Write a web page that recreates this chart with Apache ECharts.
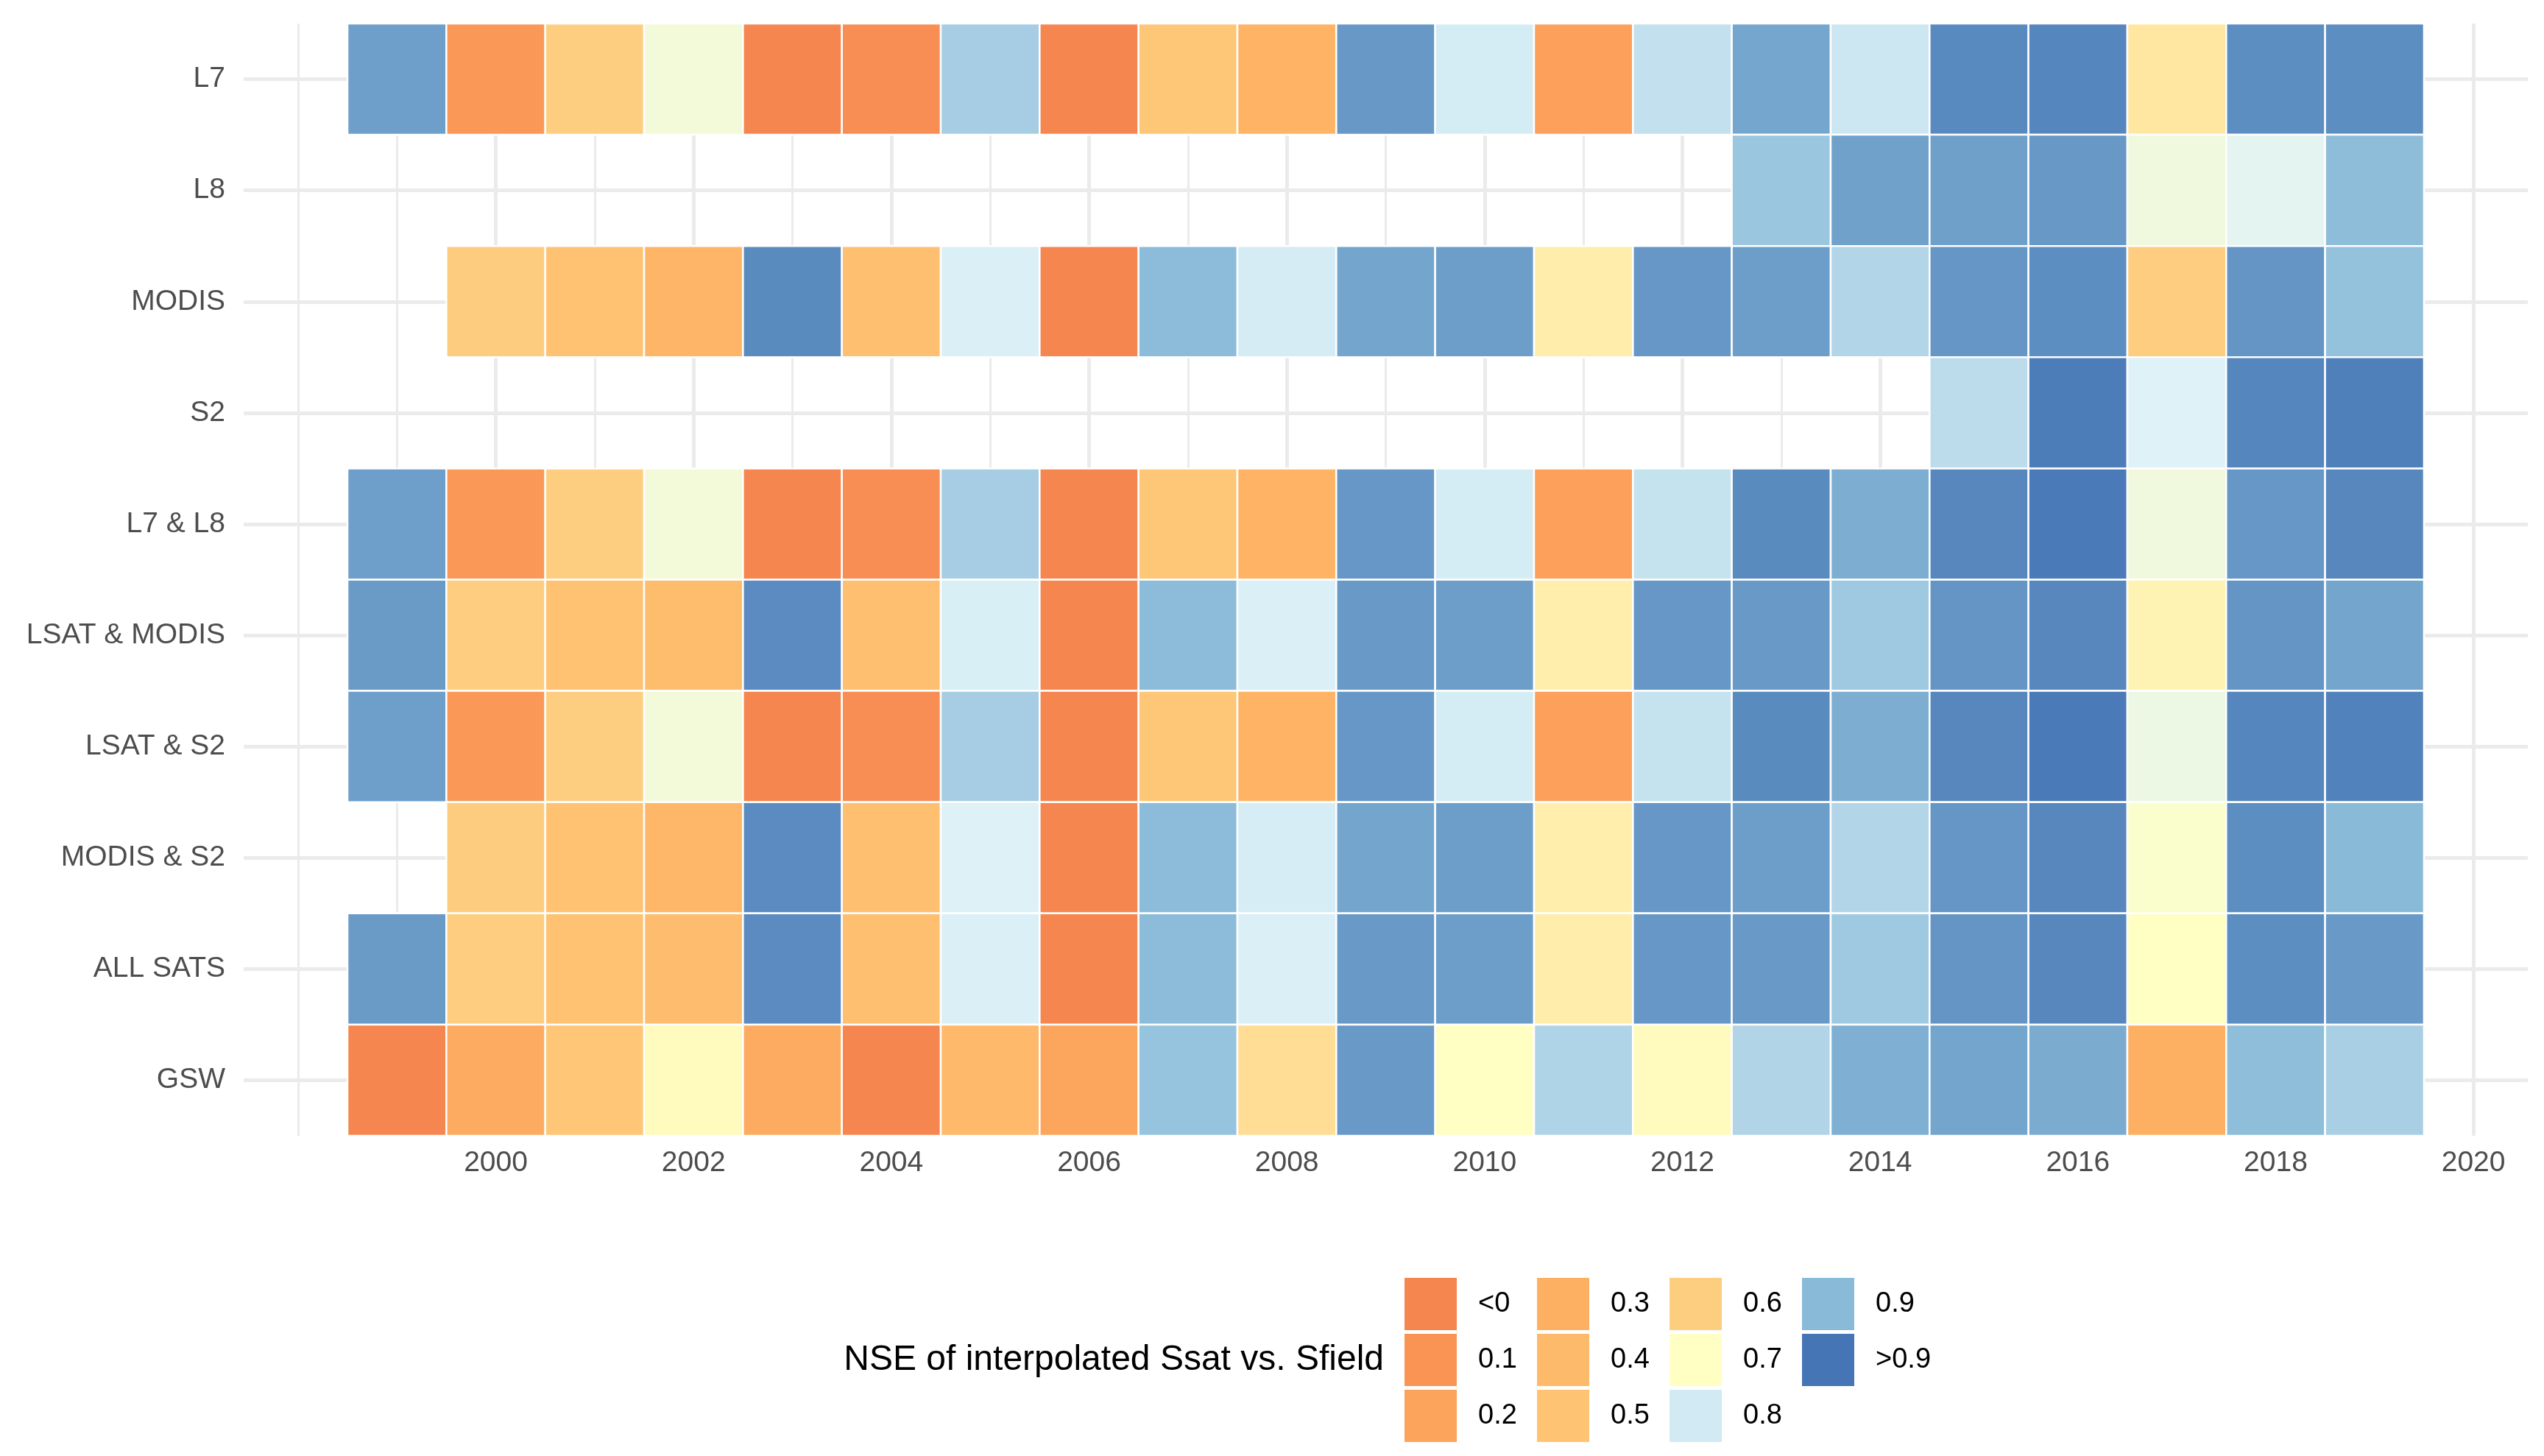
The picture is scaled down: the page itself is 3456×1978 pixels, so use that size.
<!DOCTYPE html>
<html>
<head>
<meta charset="utf-8">
<title>NSE heatmap</title>
<script src="https://cdn.jsdelivr.net/npm/echarts@6/dist/echarts.min.js"></script>
<style>
  html, body { margin: 0; padding: 0; background: #fff; }
  #chart { width: 3456px; height: 1978px; }
</style>
</head>
<body>
<div id="chart"></div>
<script>
// years on the x axis, one column per year
var years = [1999, 2000, 2001, 2002, 2003, 2004, 2005, 2006, 2007, 2008, 2009,
             2010, 2011, 2012, 2013, 2014, 2015, 2016, 2017, 2018, 2019];
var sources = ['L7', 'L8', 'MODIS', 'S2', 'L7 & L8', 'LSAT & MODIS',
               'LSAT & S2', 'MODIS & S2', 'ALL SATS', 'GSW'];
var xTickLabels = [2000, 2002, 2004, 2006, 2008, 2010, 2012, 2014, 2016, 2018, 2020];

// NSE values per source (null = no data)
var nseL7 = [0.94, 0.13, 0.60, 0.72, -0.1, 0.06, 0.86, -0.1, 0.53, 0.33, 0.95,
             0.79, 0.18, 0.82, 0.93, 0.807, 0.97, 0.976, 0.65, 0.965, 0.965];
var nseL8 = [null, null, null, null, null, null, null, null, null, null, null,
             null, null, null, 0.876, 0.937, 0.938, 0.95, 0.724, 0.743, 0.893];
var nseModis = [null, 0.58, 0.48, 0.35, 0.969, 0.45, 0.767, -0.1, 0.896, 0.787, 0.931,
                0.941, 0.663, 0.951, 0.941, 0.843, 0.953, 0.965, 0.59, 0.954, 0.885];
var nseS2 = [null, null, null, null, null, null, null, null, null, null, null,
             null, null, null, null, null, 0.829, 0.988, 0.757, 0.976, 0.984];
var nseL7L8 = [0.94, 0.13, 0.60, 0.72, -0.1, 0.06, 0.86, -0.1, 0.53, 0.33, 0.951,
               0.79, 0.18, 0.817, 0.969, 0.918, 0.974, 0.993, 0.724, 0.951, 0.974];
var nseLsatModis = [0.946, 0.59, 0.48, 0.42, 0.968, 0.45, 0.773, -0.1, 0.896, 0.767, 0.947,
                    0.941, 0.665, 0.951, 0.947, 0.869, 0.954, 0.974, 0.675, 0.954, 0.931];
var nseLsatS2 = [0.94, 0.13, 0.60, 0.72, -0.1, 0.06, 0.86, -0.1, 0.53, 0.33, 0.951,
                 0.79, 0.18, 0.817, 0.969, 0.918, 0.974, 0.993, 0.73, 0.976, 0.981];
var nseModisS2 = [null, 0.58, 0.48, 0.36, 0.968, 0.45, 0.76, -0.1, 0.896, 0.783, 0.931,
                  0.941, 0.665, 0.951, 0.941, 0.843, 0.953, 0.974, 0.708, 0.965, 0.9];
var nseAllSats = [0.946, 0.59, 0.48, 0.43, 0.968, 0.45, 0.767, -0.1, 0.896, 0.767, 0.947,
                  0.941, 0.663, 0.951, 0.947, 0.869, 0.954, 0.974, 0.70, 0.965, 0.947];
var nseGsw = [-0.1, 0.27, 0.52, 0.69, 0.27, -0.1, 0.39, 0.22, 0.882, 0.631, 0.947,
              0.70, 0.846, 0.69, 0.845, 0.915, 0.931, 0.921, 0.30, 0.892, 0.857];

var legendLabels = ['<0', '0.1', '0.2', '0.3', '0.4', '0.5', '0.6', '0.7', '0.8', '0.9', '>0.9'];
var legendColors = ['#F6864F', '#F99455', '#FCA35C', '#FDAF62', '#FEBA6B', '#FEC474',
                    '#FECE80', '#FFFFC4', '#D1EAF3', '#89BAD8', '#4575B4'];

var rows = [nseL7, nseL8, nseModis, nseS2, nseL7L8, nseLsatModis,
            nseLsatS2, nseModisS2, nseAllSats, nseGsw];

var cells = [];
rows.forEach(function(row, r) {
    row.forEach(function(v, i) {
        if (v !== null) cells.push([years[i], r, v]);
    });
});

// colour ramp from -0.1 to 1.0 in steps of 0.05; the 0.7-0.8 step bends through pale blue
function hex2rgb(h) {
    return [parseInt(h.substr(1, 2), 16), parseInt(h.substr(3, 2), 16), parseInt(h.substr(5, 2), 16)];
}
function mid(a, b) {
    var x = hex2rgb(a), y = hex2rgb(b);
    return 'rgb(' + Math.round((x[0] + y[0]) / 2) + ',' + Math.round((x[1] + y[1]) / 2) + ',' +
        Math.round((x[2] + y[2]) / 2) + ')';
}
var base = [legendColors[0]].concat(legendColors);
var ramp = [];
for (var k = 0; k < base.length - 1; k++) {
    ramp.push(base[k]);
    ramp.push(base[k] === '#FFFFC4' ? '#E0F3F8' : mid(base[k], base[k + 1]));
}
ramp.push(base[base.length - 1]);

var FONT = 'Liberation Sans, Arial, Helvetica, sans-serif';

// grid lines like ggplot's theme_minimal (major + minor)
var gridLines = [];
for (var yr = 1998; yr <= 2020; yr++) {
    var major = (yr % 2 === 0) && yr >= 2000;
    gridLines.push({ xAxis: yr, lineStyle: { width: major ? 5 : 3 } });
}
sources.forEach(function(s) {
    gridLines.push({ yAxis: s, lineStyle: { width: 5 } });
});

// legend: 3 rows x 4 columns, filled column by column
var legendGraphics = [];
legendGraphics.push({
    type: 'text', x: 1880, y: 1848,
    style: { text: 'NSE of interpolated Ssat vs. Sfield', fill: '#000', font: '48px ' + FONT,
             align: 'right', verticalAlign: 'middle' }
});
legendLabels.forEach(function(lab, i) {
    var col = Math.floor(i / 3), row = i % 3;
    var kx = 1908 + col * 180, ky = 1736 + row * 76;
    legendGraphics.push({
        type: 'rect', x: kx, y: ky,
        shape: { width: 71, height: 71 },
        style: { fill: legendColors[i] }
    });
    legendGraphics.push({
        type: 'text', x: kx + 100, y: ky + 36,
        style: { text: lab, fill: '#000', font: '38px ' + FONT, verticalAlign: 'middle' }
    });
});

var option = {
    backgroundColor: '#fff',
    animation: false,
    grid: { left: 331, top: 32, width: 3103, height: 1511, containLabel: false },
    xAxis: {
        type: 'value',
        min: 1997.45,
        max: 2020.55,
        axisLine: { show: false },
        axisTick: { show: false },
        splitLine: { show: false },
        axisLabel: {
            customValues: xTickLabels,
            color: '#4d4d4d',
            fontSize: 39,
            fontFamily: FONT,
            margin: 18,
            formatter: function(v) { return String(v); }
        }
    },
    yAxis: {
        type: 'category',
        data: sources,
        inverse: true,
        axisLine: { show: false },
        axisTick: { show: false },
        splitLine: { show: false },
        axisLabel: { color: '#4d4d4d', fontSize: 39, fontFamily: FONT, margin: 25 }
    },
    visualMap: {
        type: 'continuous',
        show: false,
        min: -0.1,
        max: 1.0,
        dimension: 2,
        seriesIndex: 1,
        inRange: { color: ramp }
    },
    series: [
        {
            type: 'line',
            data: [],
            z: 0,
            silent: true,
            markLine: {
                z: 0,
                silent: true,
                symbol: 'none',
                label: { show: false },
                animation: false,
                lineStyle: { color: '#ebebeb', type: 'solid' },
                emphasis: { disabled: true },
                data: gridLines
            }
        },
        {
            type: 'custom',
            z: 10,
            data: cells,
            encode: { x: 0, y: 1 },
            renderItem: function(params, api) {
                var c = api.coord([api.value(0), api.value(1)]);
                var s = api.size([1, 1]);
                return {
                    type: 'rect',
                    shape: { x: c[0] - s[0] / 2, y: c[1] - s[1] / 2, width: s[0], height: s[1] },
                    style: { fill: api.visual('color'), stroke: '#fff', lineWidth: 2.5 }
                };
            }
        }
    ],
    graphic: legendGraphics
};

var myChart = echarts.init(document.getElementById('chart'));
myChart.setOption(option);
</script>
</body>
</html>
